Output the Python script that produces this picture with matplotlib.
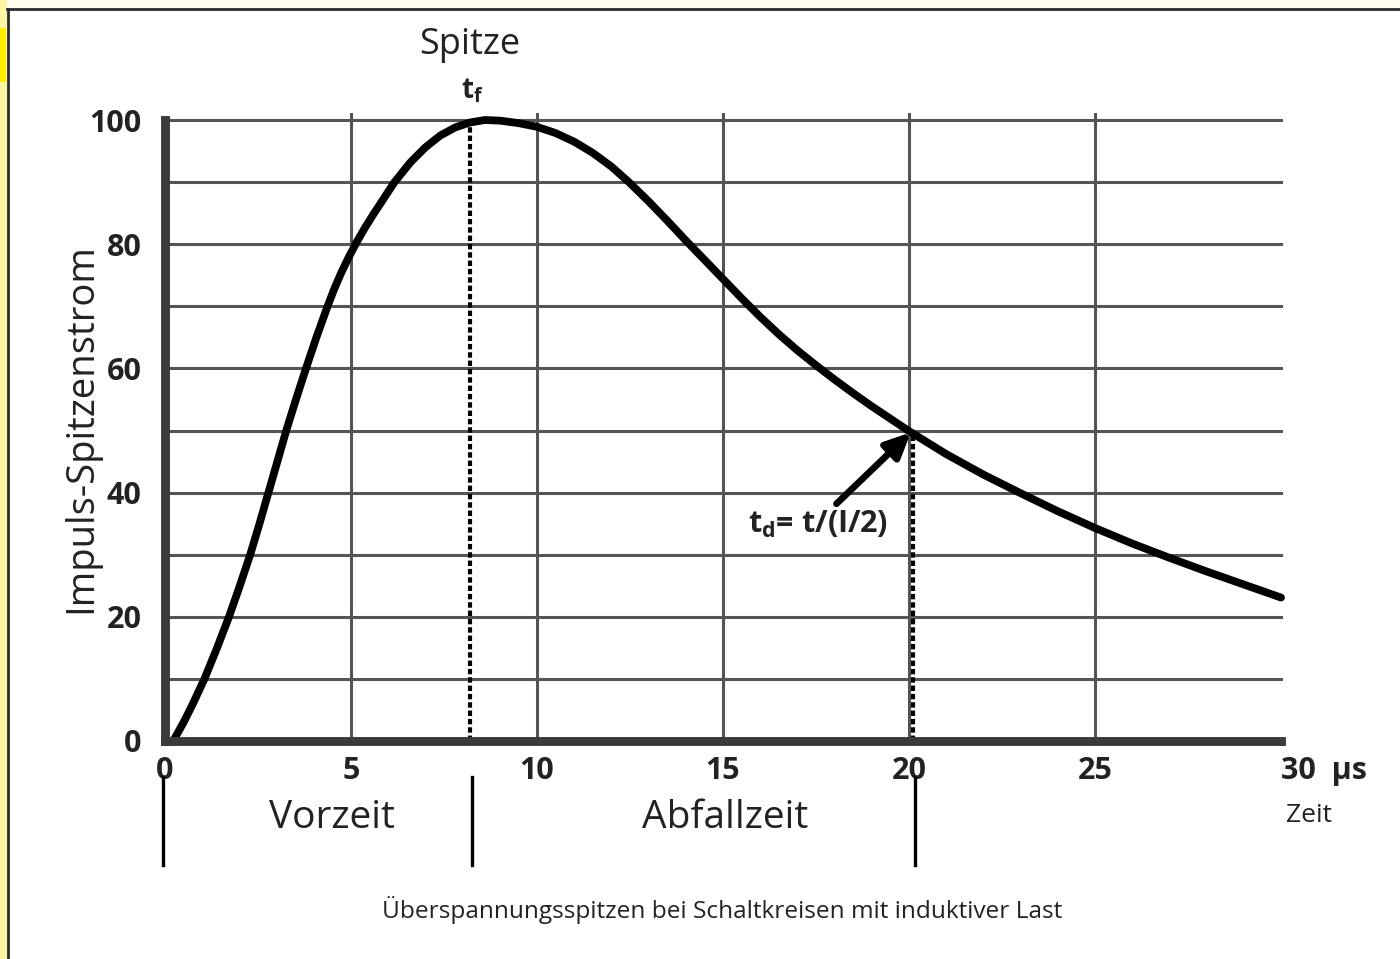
import matplotlib
matplotlib.use("Agg")
import matplotlib.pyplot as plt
from matplotlib.patches import Rectangle

plt.rcParams['font.family'] = ['Open Sans', 'DejaVu Sans']
plt.rcParams['mathtext.fontset'] = 'custom'
plt.rcParams['mathtext.rm'] = 'Open Sans'
plt.rcParams['mathtext.bf'] = 'Open Sans:bold'
plt.rcParams['mathtext.it'] = 'Open Sans:italic'

# ---- data ----
time_us = [0.22, 0.5, 0.75, 1.06, 1.4, 1.72, 2.0, 2.29, 2.54, 2.78, 3.02, 3.26,
           3.52, 3.79, 4.07, 4.37, 4.55, 4.73, 4.93, 5.14, 5.37, 5.6, 6.17, 6.6,
           7.0, 7.4, 7.8, 8.2, 8.6, 9.0, 9.5, 10.0, 10.5, 11.0, 11.5, 12.0, 12.47,
           13.0, 13.5, 14.0, 14.5, 15.0, 15.5, 16.0, 16.5, 17.0, 17.5, 18.0, 18.5,
           19.0, 19.5, 20.0, 21.0, 22.0, 23.0, 24.0, 25.0, 26.0, 27.0, 28.0, 29.0,
           30.0]
current = [0, 3, 6, 10, 15, 20, 24.8, 30, 35, 40, 45, 50,
           55, 60, 65, 70, 72.8, 75.3, 77.8, 80.2, 82.6, 84.8, 90, 93.2,
           95.6, 97.5, 98.8, 99.6, 100, 99.9, 99.5, 98.9, 97.9, 96.5, 94.7, 92.5, 90,
           86.9, 83.8, 80.6, 77.5, 74.4, 71.3, 68.3, 65.5, 62.9, 60.5, 58.2, 56.0,
           53.9, 51.9, 49.9, 46.2, 42.9, 39.9, 37.0, 34.3, 31.8, 29.5, 27.3, 25.2,
           23.1]

x_ticks = [0, 5, 10, 15, 20, 25, 30]
x_tick_labels = ["0", "5", "10", "15", "20", "25", "30  µs"]
y_ticks = [0, 20, 40, 60, 80, 100]
y_tick_labels = ["0", "20", "40", "60", "80", "100"]
x_grid = [5, 10, 15, 20, 25]
y_grid = [10, 20, 30, 40, 50, 60, 70, 80, 90, 100]

t_front = 8.2      # t_f (Spitze)
t_half = 20.1      # t_d, Halbwertszeit
half_value = 50

phase_labels = ["Vorzeit", "Abfallzeit"]
caption = "Überspannungsspitzen bei Schaltkreisen mit induktiver Last"

# ---- figure ----
W, H = 1400, 959
fig = plt.figure(figsize=(W / 100, H / 100), dpi=100)
fig.patch.set_facecolor('white')

# page frame: cream strips, yellow mark, dark border
fig.add_artist(Rectangle((0, 1 - 8 / H), 1, 8 / H, transform=fig.transFigure,
                         facecolor='#fffdf0', edgecolor='none', zorder=0))
fig.add_artist(Rectangle((0, 0), 7 / W, 1, transform=fig.transFigure,
                         facecolor='#fff6a3', edgecolor='none', zorder=0))
fig.add_artist(Rectangle((0, 1 - 82 / H), 6 / W, 54 / H, transform=fig.transFigure,
                         facecolor='#ffee00', edgecolor='none', zorder=1))
fig.add_artist(plt.Line2D([7 / W, 1], [1 - 9 / H, 1 - 9 / H], transform=fig.transFigure,
                          color='#2a2a2a', lw=2.0, zorder=2))
fig.add_artist(plt.Line2D([7.5 / W, 7.5 / W], [0, 1 - 9 / H], transform=fig.transFigure,
                          color='#2a2a2a', lw=2.0, zorder=2))

x0, x1 = 165, 1281
y0, y1 = 741, 120
ax = fig.add_axes([x0 / W, 1 - y0 / H, (x1 - x0) / W, (y0 - y1) / H])
ax.set_xlim(0, 30)
ax.set_ylim(0, 100)
ax.set_facecolor('none')

for s in ['top', 'right']:
    ax.spines[s].set_visible(False)
for s in ['left', 'bottom']:
    ax.spines[s].set_linewidth(6.4)
    ax.spines[s].set_color('#3a3a3a')
    ax.spines[s].set_zorder(5)

ax.set_xticks(x_ticks)
ax.set_xticklabels(x_tick_labels)
ax.set_yticks(y_ticks)
ax.set_yticklabels(y_tick_labels)
ax.tick_params(axis='both', which='both', length=0)
ax.tick_params(axis='x', pad=11, labelsize=22, colors='#222222')
ax.tick_params(axis='y', pad=17, labelsize=22, colors='#222222')
for lab in ax.get_xticklabels() + ax.get_yticklabels():
    lab.set_fontweight('bold')
ax.get_xticklabels()[-1].set_horizontalalignment('left')

# grid
for gy in y_grid:
    ax.axhline(gy, color='#555555', lw=2.2, zorder=1, clip_on=False)
for gx in x_grid:
    ax.plot([gx, gx], [0, 101], color='#555555', lw=2.2, zorder=1, clip_on=False)

ax.set_ylabel("Impuls-Spitzenstrom", fontsize=27.5, color='#222222')
ax.yaxis.set_label_coords(-(x0 - 100) / (x1 - x0), (y0 - 428) / (y0 - y1))

# curve
ax.plot(time_us, current, color='black', lw=5.6, solid_capstyle='round',
        solid_joinstyle='round', zorder=4, clip_on=False)

# dotted markers
ax.plot([t_front, t_front], [0, 100], color='black', lw=3.0,
        linestyle=(0, (1.3, 0.7)), zorder=3, clip_on=False)
ax.plot([t_half, t_half], [0, half_value], color='black', lw=3.0,
        linestyle=(0, (1.3, 0.7)), zorder=3, clip_on=False)

# labels above
ax.text(t_front, 112.1, "Spitze", ha='center', va='center', fontsize=26,
        color='#222222', clip_on=False)
ax.text(t_front + 0.05, 104.6, r"t$_\mathbf{f}$", ha='center', va='center', fontsize=20,
        fontweight='bold', color='#222222', clip_on=False)

# half-value annotation
ax.annotate("", xy=(t_half - 0.05, half_value - 0.3), xytext=(18.05, 38.2),
            arrowprops=dict(arrowstyle='-|>,head_length=1.5,head_width=0.7',
                            color='black', lw=4.8, shrinkA=0, shrinkB=0),
            zorder=6, annotation_clip=False)
ax.text(17.55, 34.8, r"t$_\mathbf{d}$= t/(I/2)", ha='center', va='center',
        fontsize=22, fontweight='bold', color='#222222', clip_on=False)

# phase markers below the axis
for tx in [-0.05, t_front + 0.05, t_half + 0.05]:
    ax.plot([tx, tx], [-5.8, -20.0], color='black', lw=2.4, clip_on=False)
ax.text(4.5, -12.4, phase_labels[0], ha='center', va='center', fontsize=28,
        color='#222222', clip_on=False)
ax.text(15.05, -12.4, phase_labels[1], ha='center', va='center', fontsize=28,
        color='#222222', clip_on=False)
ax.text(30.75, -12.0, "Zeit", ha='center', va='center', fontsize=19,
        color='#222222', clip_on=False)

fig.text(722 / W, 1 - 910 / H, caption, ha='center', va='center', fontsize=17.6,
         color='#222222')

fig.savefig("out.png", dpi=100)
